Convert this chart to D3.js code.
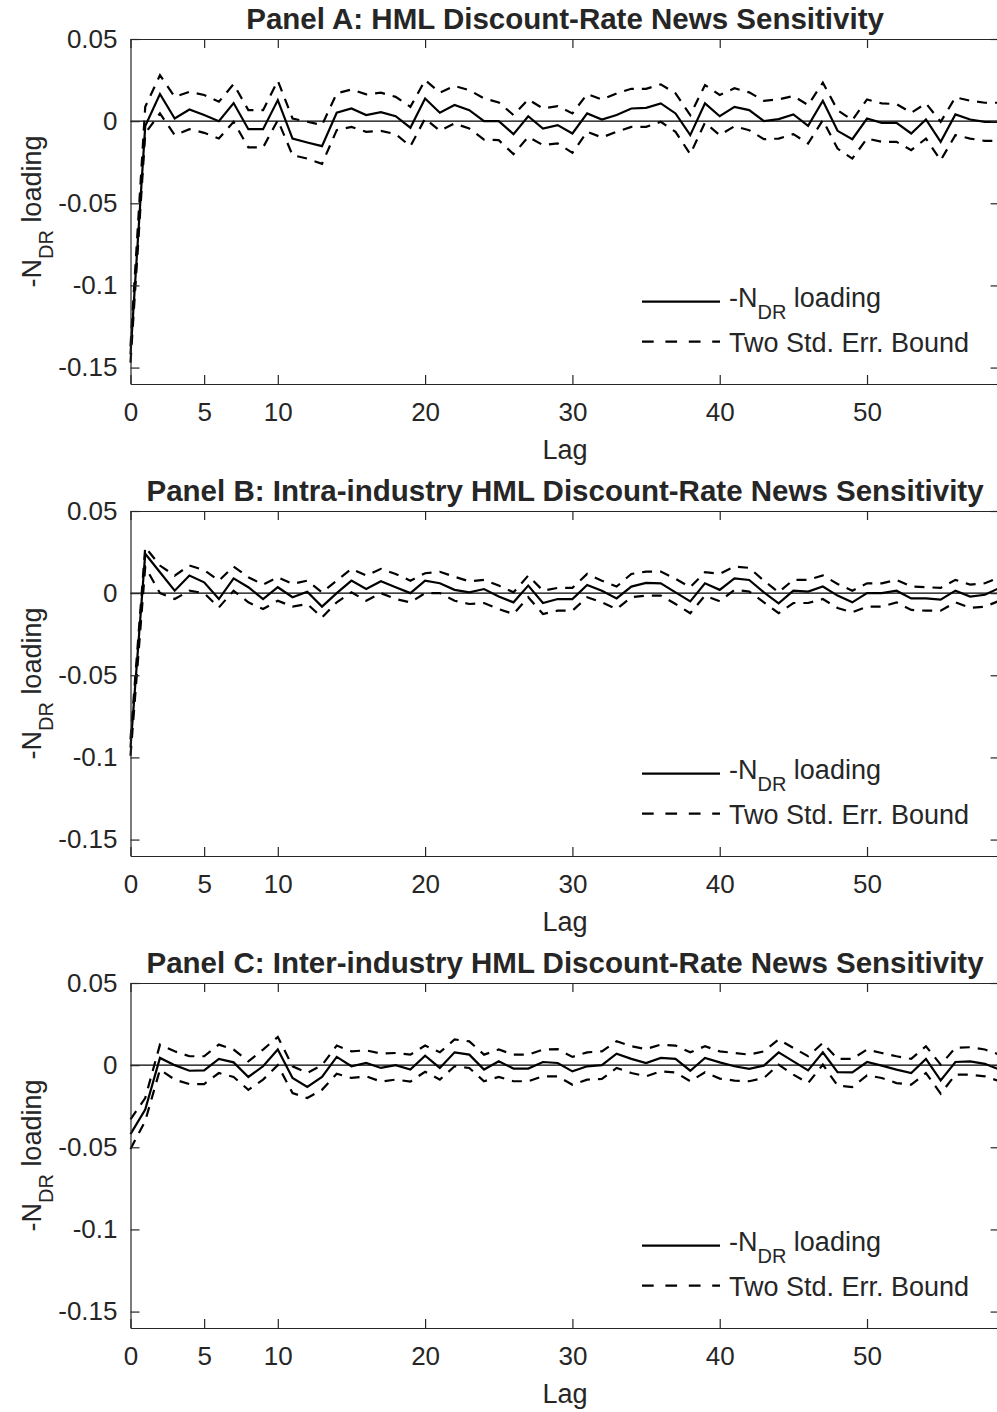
<!DOCTYPE html>
<html>
<head>
<meta charset="utf-8">
<script src="https://cdn.jsdelivr.net/npm/d3@7/dist/d3.min.js"></script>
<style>
  html, body { margin: 0; padding: 0; background: #fff; }
  svg { display: block; }
  text { font-family: "Liberation Sans", Arial, Helvetica, sans-serif; fill: #262626; }
</style>
</head>
<body>
<svg id="chart" width="997" height="1412"></svg>
<script>
// ---------------- DATA ----------------
const lags = [0,1,2,3,4,5,6,7,8,9,10,11,12,13,14,15,16,17,18,19,20,21,22,23,24,25,26,27,28,29,
              30,31,32,33,34,35,36,37,38,39,40,41,42,43,44,45,46,47,48,49,50,51,52,53,54,55,56,57,58,59];

const panelTitles = [
  "Panel A: HML Discount-Rate News Sensitivity",
  "Panel B: Intra-industry HML Discount-Rate News Sensitivity",
  "Panel C: Inter-industry HML Discount-Rate News Sensitivity"
];

const xTicks = [0, 5, 10, 20, 30, 40, 50];
const yTicks = [0.05, 0, -0.05, -0.1, -0.15];
const xLabel = "Lag";
const legendLabels = ["loading", "Two Std. Err. Bound"];

const loadingA = [-0.142,-0.003,0.0165,0.0016,0.0071,0.0037,0.0,0.011,-0.0049,-0.0049,0.0128,-0.0106,-0.013,-0.0152,0.0051,0.0077,0.0037,0.0055,0.003,-0.004,
  0.0138,0.0051,0.0098,0.0067,0.0,0.0,-0.0079,0.003,-0.0045,-0.0024,-0.0075,0.0047,0.001,0.0037,0.0077,0.0081,0.0108,0.0047,-0.0085,0.0108,
  0.003,0.0087,0.0067,0.0,0.0012,0.0041,-0.0029,0.0124,-0.0059,-0.011,0.0016,-0.001,-0.001,-0.0075,0.001,-0.0126,0.0041,0.001,-0.0004,-0.0004];
const upperA = [-0.137,0.0087,0.028,0.0148,0.0179,0.0159,0.0118,0.0226,0.0067,0.0067,0.0246,0.0016,-0.0004,-0.0024,0.0169,0.0193,0.0163,0.0173,0.0148,0.0087,
  0.025,0.0173,0.0214,0.0189,0.0138,0.0114,0.0037,0.0132,0.0077,0.0091,0.0047,0.0165,0.0132,0.0169,0.0197,0.0197,0.0224,0.0169,0.0037,0.022,
  0.0159,0.02,0.0175,0.0124,0.0132,0.0153,0.0098,0.0234,0.0067,0.0006,0.0132,0.0108,0.0104,0.0051,0.0108,-0.0004,0.0145,0.0124,0.0112,0.0112];
const lowerA = [-0.147,-0.0074,0.0047,-0.0085,-0.0049,-0.0071,-0.0106,-0.0004,-0.016,-0.016,0.0006,-0.0207,-0.0228,-0.026,-0.0055,-0.0035,-0.0065,-0.0059,-0.0079,-0.0153,
  0.0016,-0.0059,-0.0014,-0.0045,-0.0112,-0.0116,-0.0201,-0.0096,-0.0146,-0.0136,-0.0193,-0.0065,-0.0099,-0.0065,-0.0035,-0.0035,-0.0004,-0.0065,-0.0201,-0.0009,
  -0.0085,-0.0031,-0.0055,-0.011,-0.0106,-0.0079,-0.0136,0.0006,-0.0167,-0.0228,-0.0106,-0.0126,-0.0126,-0.0177,-0.0106,-0.0238,-0.0085,-0.0106,-0.012,-0.012];

const loadingB = [-0.094,0.024,0.0127,0.0015,0.0107,0.0066,-0.0036,0.009,0.0036,-0.0036,0.0036,-0.0025,0.0009,-0.0082,0.0,0.0076,0.0025,0.0072,0.0036,0.0,
  0.0076,0.006,0.002,0.0005,0.0025,-0.0021,-0.0056,0.0046,-0.006,-0.0036,-0.0036,0.005,0.0015,-0.0032,0.004,0.0062,0.006,0.0005,-0.005,0.006,
  0.002,0.009,0.008,0.0005,-0.0062,0.0015,0.0009,0.004,-0.0015,-0.0056,0.0,0.0,0.0015,-0.0032,-0.0032,-0.004,0.0015,-0.0021,-0.001,0.0032];
const upperB = [-0.089,0.028,0.0168,0.0107,0.0168,0.0141,0.0076,0.0162,0.0097,0.0052,0.0097,0.0056,0.0076,0.0005,0.0076,0.0148,0.0107,0.0148,0.0117,0.0076,
  0.0121,0.013,0.01,0.0072,0.0081,0.0046,0.0005,0.0107,0.0015,0.0032,0.0032,0.0117,0.0076,0.004,0.0117,0.0131,0.0131,0.0087,0.0036,0.0128,
  0.0117,0.0162,0.0154,0.0076,0.0005,0.0081,0.0081,0.0108,0.0056,0.0015,0.006,0.006,0.0081,0.004,0.0036,0.0032,0.0081,0.0052,0.006,0.0097];
const lowerB = [-0.099,0.016,0.0,-0.0036,0.0015,0.0,-0.0087,0.0015,-0.0056,-0.0097,-0.0046,-0.0082,-0.0066,-0.0148,-0.0056,0.0005,-0.0046,0.0,-0.0036,-0.0056,
  0.0,0.0,-0.0046,-0.0066,-0.006,-0.0097,-0.0127,-0.0025,-0.0127,-0.0107,-0.0107,-0.0025,-0.0056,-0.0097,-0.0025,-0.0015,-0.0015,-0.0066,-0.0122,-0.0015,
  -0.005,0.002,0.001,-0.0056,-0.0122,-0.006,-0.006,-0.0036,-0.009,-0.0117,-0.0082,-0.0082,-0.0056,-0.0102,-0.0107,-0.0107,-0.0056,-0.009,-0.0082,-0.0046];

const loadingC = [-0.042,-0.027,0.0044,0.0,-0.0034,-0.0032,0.0038,0.0017,-0.0072,-0.0007,0.0095,-0.0078,-0.0133,-0.0072,0.005,-0.0007,0.0013,-0.0017,0.0,-0.0027,
  0.0058,-0.0017,0.0078,0.0064,-0.0027,0.0023,-0.0021,-0.0021,0.0019,0.0013,-0.0038,-0.0007,0.0,0.007,0.0038,0.0013,0.0044,0.0038,-0.0034,0.0044,
  0.0017,-0.0007,-0.0023,-0.0003,0.0078,0.0023,-0.0032,0.0078,-0.0042,-0.0044,0.0019,-0.0003,-0.0027,-0.0048,0.0038,-0.0093,0.0019,0.0023,0.0008,-0.0027];
const upperC = [-0.033,-0.02,0.0125,0.0084,0.0054,0.0054,0.0125,0.0095,0.0023,0.0095,0.0172,-0.0007,-0.0048,0.0,0.0119,0.0084,0.009,0.007,0.0074,0.0064,
  0.0119,0.0078,0.0156,0.0145,0.0064,0.0095,0.0064,0.0064,0.0095,0.0098,0.005,0.0078,0.0084,0.0145,0.0115,0.0098,0.0125,0.0119,0.0078,0.0115,
  0.0084,0.0074,0.0064,0.0084,0.0156,0.0105,0.0054,0.0135,0.0038,0.0038,0.0095,0.0074,0.0054,0.0038,0.0115,0.0003,0.0105,0.0109,0.0095,0.0064];
const lowerC = [-0.051,-0.034,-0.0027,-0.0088,-0.0115,-0.0115,-0.0048,-0.0072,-0.015,-0.0088,0.0,-0.017,-0.02,-0.015,-0.0052,-0.0078,-0.0068,-0.01,-0.0088,-0.01,
  -0.004,-0.0088,-0.0007,-0.0017,-0.0098,-0.0072,-0.0098,-0.0098,-0.0068,-0.0068,-0.0119,-0.0088,-0.0084,-0.0017,-0.0048,-0.0068,-0.0038,-0.0044,-0.0098,-0.0043,
  -0.0082,-0.0094,-0.0098,-0.0078,0.0003,-0.0058,-0.0109,0.0003,-0.0125,-0.0133,-0.0062,-0.0078,-0.0109,-0.0119,-0.0048,-0.0174,-0.0058,-0.0058,-0.0068,-0.0098];

const panels = [
  { title: panelTitles[0], loading: loadingA, upper: upperA, lower: lowerA },
  { title: panelTitles[1], loading: loadingB, upper: upperB, lower: lowerB },
  { title: panelTitles[2], loading: loadingC, upper: upperC, lower: lowerC }
];

// ---------------- LAYOUT ----------------
const svg = d3.select("#chart");
const AX = "#262626";
const FS = 26;      // tick labels
const FS_LAB = 27;  // axis labels
const FS_LEG = 27;  // legend
const FS_TTL = 29.5;
const left = 130.5, right = 999.6;
const panelTop = 39, panelH = 345, panelStep = 472;

const x = d3.scaleLinear().domain([0, 59]).range([left, right]);

function addLabelWithSub(sel, fs, main, sub, rest) {
  const shift = fs * 0.46;
  sel.append("tspan").text(main);
  sel.append("tspan").attr("font-size", fs * 0.74).attr("dy", shift).text(sub);
  sel.append("tspan").attr("font-size", fs).attr("dy", -shift).text(" " + rest);
}

panels.forEach((p, i) => {
  const top = panelTop + i * panelStep;
  const bottom = top + panelH;
  const y = d3.scaleLinear().domain([-0.16, 0.05]).range([bottom, top]);
  const g = svg.append("g");

  // zero line
  g.append("line")
    .attr("x1", x(0)).attr("x2", x(59))
    .attr("y1", y(0)).attr("y2", y(0))
    .attr("stroke", "#000").attr("stroke-width", 1.2);

  // data lines
  const line = d3.line().x((d, k) => x(lags[k])).y(d => y(d));
  g.append("path").datum(p.upper).attr("d", line)
    .attr("fill", "none").attr("stroke", "#000").attr("stroke-width", 2.2)
    .attr("stroke-dasharray", "10,8");
  g.append("path").datum(p.lower).attr("d", line)
    .attr("fill", "none").attr("stroke", "#000").attr("stroke-width", 2.2)
    .attr("stroke-dasharray", "10,8");
  g.append("path").datum(p.loading).attr("d", line)
    .attr("fill", "none").attr("stroke", "#000").attr("stroke-width", 2.2)
    .attr("stroke-linejoin", "miter");

  // axes (MATLAB box with inward ticks)
  const tl = 9;
  const xb = g.append("g").attr("transform", `translate(0,${bottom})`)
    .call(d3.axisBottom(x).tickValues(xTicks).tickSize(-tl).tickPadding(19).tickSizeOuter(0).tickFormat(d3.format("d")));
  const xt = g.append("g").attr("transform", `translate(0,${top})`)
    .call(d3.axisTop(x).tickValues(xTicks).tickSize(-tl).tickSizeOuter(0).tickFormat(""));
  const yl = g.append("g").attr("transform", `translate(${left},0)`)
    .call(d3.axisLeft(y).tickValues(yTicks).tickSize(-tl).tickPadding(13).tickSizeOuter(0)
      .tickFormat(d => d === 0 ? "0" : String(d)));
  const yr = g.append("g").attr("transform", `translate(${right},0)`)
    .call(d3.axisRight(y).tickValues(yTicks).tickSize(-tl).tickSizeOuter(0).tickFormat(""));
  [xb, xt, yl, yr].forEach(a => {
    a.select(".domain").attr("stroke", AX).attr("stroke-width", 1.2);
    a.selectAll(".tick line").attr("stroke", AX).attr("stroke-width", 1.2);
    a.selectAll(".tick text").attr("font-size", FS).attr("fill", AX)
      .attr("font-family", '"Liberation Sans", Arial, Helvetica, sans-serif');
  });

  // title
  g.append("text").attr("x", (left + right) / 2).attr("y", top - 10)
    .attr("text-anchor", "middle").attr("font-weight", "bold")
    .attr("font-size", FS_TTL).attr("fill", "#000").text(p.title);

  // x label
  g.append("text").attr("x", (left + right) / 2).attr("y", bottom + 75)
    .attr("text-anchor", "middle").attr("font-size", FS_LAB).text(xLabel);

  // y label
  const ylab = g.append("text")
    .attr("transform", `translate(41,${(top + bottom) / 2}) rotate(-90)`)
    .attr("text-anchor", "middle").attr("font-size", FS_LAB);
  addLabelWithSub(ylab, FS_LAB, "-N", "DR", "loading");

  // legend (no box)
  const l1 = top + 262.7, l2 = top + 302.7;
  g.append("line").attr("x1", 642).attr("x2", 720).attr("y1", l1).attr("y2", l1)
    .attr("stroke", "#000").attr("stroke-width", 2.2);
  g.append("line").attr("x1", 642).attr("x2", 720).attr("y1", l2).attr("y2", l2)
    .attr("stroke", "#000").attr("stroke-width", 2.2).attr("stroke-dasharray", "11.7,11.7");
  const t1 = g.append("text").attr("x", 729).attr("y", l1 + 5).attr("font-size", FS_LEG).attr("fill", "#000");
  addLabelWithSub(t1, FS_LEG, "-N", "DR", legendLabels[0]);
  g.append("text").attr("x", 729).attr("y", l2 + 10.5).attr("font-size", FS_LEG).attr("fill", "#000")
    .text(legendLabels[1]);
});
</script>
</body>
</html>
